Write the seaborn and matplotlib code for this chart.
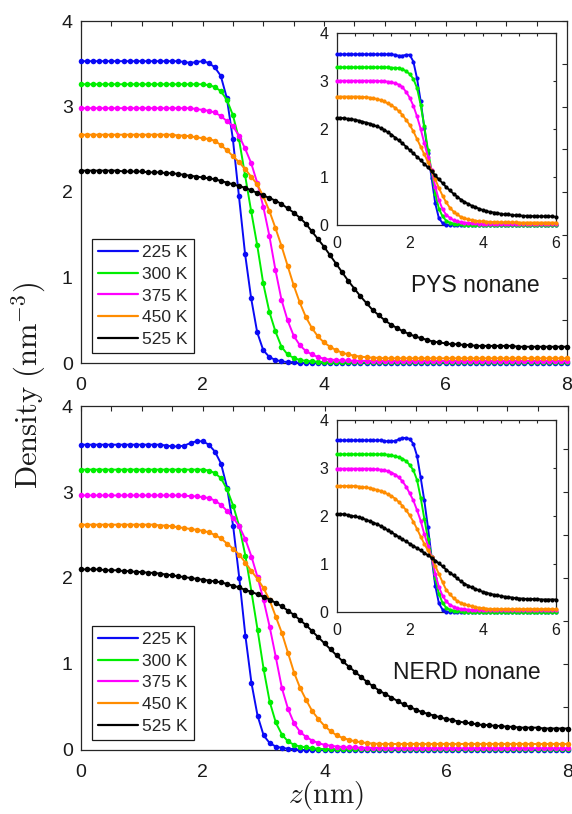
import numpy as np
import pandas as pd
import matplotlib
matplotlib.use("Agg")
import matplotlib.pyplot as plt
import seaborn as sns
from matplotlib.lines import Line2D
from matplotlib.ticker import MultipleLocator, NullLocator

# ---------------------------------------------------------------------------
# Density profiles across the liquid/vapour interface of nonane
# ---------------------------------------------------------------------------
temps = ["225 K", "300 K", "375 K", "450 K", "525 K"]
colors = ["#0a0af5", "#00ee00", "#ff00ff", "#ff8c00", "#000000"]

# sampling grids (nm)
z_main = np.round(np.arange(81) * 0.1, 1)    # 0 .. 8 nm
z_inset = np.round(np.arange(61) * 0.1, 1)   # 0 .. 6 nm

# ---- PYS nonane, main panel ----------------------------------------------
pys_225 = [
    3.53, 3.53, 3.53, 3.53, 3.53, 3.53, 3.53, 3.53, 3.53, 3.53,
    3.53, 3.53, 3.53, 3.53, 3.53, 3.53, 3.53, 3.52, 3.51, 3.52,
    3.53, 3.51, 3.46, 3.36, 3.10, 2.62, 1.95, 1.28, 0.76, 0.36,
    0.15, 0.07, 0.035, 0.02, 0.01, 0.01, 0.0, 0.0, 0.0, 0.0,
    0.0, 0.0, 0.0, 0.0, 0.0, 0.0, 0.0, 0.0, 0.0, 0.0,
    0.0, 0.0, 0.0, 0.0, 0.0, 0.0, 0.0, 0.0, 0.0, 0.0,
    0.0, 0.0, 0.0, 0.0, 0.0, 0.0, 0.0, 0.0, 0.0, 0.0,
    0.0, 0.0, 0.0, 0.0, 0.0, 0.0, 0.0, 0.0, 0.0, 0.0,
    0.0]
pys_300 = [
    3.26, 3.26, 3.26, 3.26, 3.26, 3.26, 3.26, 3.26, 3.26, 3.26,
    3.26, 3.26, 3.26, 3.26, 3.26, 3.26, 3.26, 3.26, 3.26, 3.26,
    3.26, 3.25, 3.23, 3.18, 3.08, 2.90, 2.62, 2.20, 1.78, 1.38,
    0.93, 0.60, 0.37, 0.19, 0.10, 0.06, 0.035, 0.025, 0.02, 0.015,
    0.01, 0.01, 0.01, 0.01, 0.01, 0.01, 0.01, 0.01, 0.01, 0.01,
    0.01, 0.01, 0.01, 0.01, 0.01, 0.01, 0.01, 0.01, 0.01, 0.01,
    0.01, 0.01, 0.01, 0.01, 0.01, 0.01, 0.01, 0.01, 0.01, 0.01,
    0.01, 0.01, 0.01, 0.01, 0.01, 0.01, 0.01, 0.01, 0.01, 0.01,
    0.01]
pys_375 = [
    2.98, 2.98, 2.98, 2.98, 2.98, 2.98, 2.98, 2.98, 2.98, 2.98,
    2.98, 2.98, 2.98, 2.98, 2.98, 2.98, 2.98, 2.98, 2.98, 2.97,
    2.96, 2.95, 2.93, 2.89, 2.83, 2.77, 2.66, 2.51, 2.34, 2.11,
    1.83, 1.49, 1.09, 0.74, 0.50, 0.32, 0.21, 0.14, 0.10, 0.07,
    0.05, 0.04, 0.035, 0.03, 0.03, 0.025, 0.025, 0.025, 0.025, 0.025,
    0.025, 0.025, 0.025, 0.025, 0.025, 0.025, 0.025, 0.025, 0.025, 0.025,
    0.025, 0.025, 0.025, 0.025, 0.025, 0.025, 0.025, 0.025, 0.025, 0.025,
    0.025, 0.025, 0.025, 0.025, 0.025, 0.025, 0.025, 0.025, 0.025, 0.025,
    0.025]
pys_450 = [
    2.67, 2.67, 2.67, 2.67, 2.67, 2.67, 2.67, 2.67, 2.67, 2.67,
    2.67, 2.67, 2.67, 2.67, 2.67, 2.67, 2.66, 2.66, 2.65, 2.64,
    2.63, 2.62, 2.60, 2.55, 2.49, 2.42, 2.35, 2.27, 2.18, 2.09,
    1.95, 1.78, 1.58, 1.37, 1.14, 0.91, 0.71, 0.54, 0.41, 0.31,
    0.24, 0.19, 0.15, 0.12, 0.10, 0.085, 0.075, 0.067, 0.062, 0.06,
    0.055, 0.055, 0.055, 0.055, 0.055, 0.055, 0.055, 0.055, 0.055, 0.055,
    0.055, 0.055, 0.055, 0.055, 0.055, 0.055, 0.055, 0.055, 0.055, 0.055,
    0.055, 0.055, 0.055, 0.055, 0.055, 0.055, 0.055, 0.055, 0.055, 0.055,
    0.055]
pys_525 = [
    2.25, 2.25, 2.25, 2.25, 2.25, 2.25, 2.25, 2.24, 2.24, 2.24,
    2.24, 2.23, 2.23, 2.23, 2.22, 2.22, 2.21, 2.20, 2.19, 2.18,
    2.17, 2.16, 2.15, 2.13, 2.11, 2.09, 2.07, 2.05, 2.02, 1.99,
    1.96, 1.93, 1.90, 1.86, 1.81, 1.76, 1.70, 1.63, 1.54, 1.45,
    1.36, 1.26, 1.16, 1.06, 0.96, 0.87, 0.78, 0.70, 0.62, 0.56,
    0.50, 0.45, 0.41, 0.37, 0.34, 0.31, 0.29, 0.27, 0.25, 0.24,
    0.23, 0.22, 0.22, 0.21, 0.21, 0.20, 0.20, 0.20, 0.20, 0.20,
    0.20, 0.20, 0.19, 0.19, 0.19, 0.19, 0.19, 0.19, 0.19, 0.19,
    0.19]

# ---- PYS nonane, inset -----------------------------------------------------
pys_in_225 = [
    3.55, 3.55, 3.55, 3.55, 3.55, 3.55, 3.55, 3.55, 3.55, 3.55,
    3.55, 3.55, 3.55, 3.55, 3.55, 3.55, 3.54, 3.52, 3.52, 3.54,
    3.54, 3.40, 3.05, 2.58, 2.02, 1.50, 0.98, 0.45, 0.14, 0.04,
    0.01, 0.0, 0.0, 0.0, 0.0, 0.0, 0.0, 0.0, 0.0, 0.0,
    0.0, 0.0, 0.0, 0.0, 0.0, 0.0, 0.0, 0.0, 0.0, 0.0,
    0.0, 0.0, 0.0, 0.0, 0.0, 0.0, 0.0, 0.0, 0.0, 0.0,
    0.0]
pys_in_300 = [
    3.28, 3.28, 3.28, 3.28, 3.28, 3.28, 3.28, 3.28, 3.28, 3.28,
    3.28, 3.28, 3.28, 3.28, 3.28, 3.27, 3.27, 3.26, 3.24, 3.20,
    3.14, 3.04, 2.85, 2.50, 2.05, 1.56, 1.12, 0.65, 0.34, 0.18,
    0.09, 0.05, 0.03, 0.02, 0.015, 0.01, 0.01, 0.01, 0.01, 0.01,
    0.01, 0.01, 0.01, 0.01, 0.01, 0.01, 0.01, 0.01, 0.01, 0.01,
    0.01, 0.01, 0.01, 0.01, 0.01, 0.01, 0.01, 0.01, 0.01, 0.01,
    0.01]
pys_in_375 = [
    3.00, 3.00, 3.00, 3.00, 3.00, 3.00, 3.00, 3.00, 3.00, 3.00,
    3.00, 3.00, 2.99, 2.99, 2.98, 2.97, 2.95, 2.92, 2.87, 2.77,
    2.65, 2.48, 2.26, 2.00, 1.70, 1.42, 1.14, 0.80, 0.52, 0.33,
    0.21, 0.15, 0.10, 0.075, 0.06, 0.05, 0.045, 0.04, 0.035, 0.03,
    0.03, 0.03, 0.03, 0.03, 0.03, 0.03, 0.03, 0.03, 0.03, 0.03,
    0.03, 0.03, 0.03, 0.03, 0.03, 0.03, 0.03, 0.03, 0.03, 0.03,
    0.03]
pys_in_450 = [
    2.67, 2.67, 2.67, 2.67, 2.67, 2.67, 2.67, 2.66, 2.66, 2.65,
    2.64, 2.62, 2.60, 2.57, 2.53, 2.49, 2.44, 2.37, 2.29, 2.19,
    2.08, 1.95, 1.79, 1.63, 1.47, 1.31, 1.13, 0.95, 0.77, 0.61,
    0.47, 0.36, 0.28, 0.22, 0.17, 0.14, 0.12, 0.10, 0.09, 0.08,
    0.075, 0.07, 0.065, 0.06, 0.06, 0.055, 0.055, 0.055, 0.055, 0.055,
    0.05, 0.05, 0.05, 0.05, 0.05, 0.05, 0.05, 0.05, 0.05, 0.05,
    0.05]
pys_in_525 = [
    2.23, 2.23, 2.22, 2.21, 2.20, 2.19, 2.17, 2.15, 2.13, 2.11,
    2.08, 2.05, 2.02, 1.98, 1.93, 1.88, 1.82, 1.76, 1.70, 1.63,
    1.56, 1.49, 1.42, 1.35, 1.27, 1.20, 1.12, 1.03, 0.95, 0.87,
    0.79, 0.72, 0.65, 0.59, 0.53, 0.48, 0.44, 0.40, 0.37, 0.34,
    0.31, 0.29, 0.27, 0.26, 0.25, 0.23, 0.22, 0.22, 0.21, 0.20,
    0.20, 0.19, 0.19, 0.19, 0.18, 0.18, 0.18, 0.18, 0.18, 0.18,
    0.17]

# ---- NERD nonane, main panel ---------------------------------------------
nerd_225 = [
    3.55, 3.55, 3.55, 3.55, 3.55, 3.55, 3.55, 3.55, 3.55, 3.55,
    3.55, 3.55, 3.55, 3.55, 3.54, 3.53, 3.53, 3.54, 3.57, 3.59,
    3.59, 3.55, 3.47, 3.33, 3.05, 2.60, 2.00, 1.33, 0.78, 0.40,
    0.17, 0.08, 0.04, 0.025, 0.015, 0.01, 0.0, 0.0, 0.0, 0.0,
    0.0, 0.0, 0.0, 0.0, 0.0, 0.0, 0.0, 0.0, 0.0, 0.0,
    0.0, 0.0, 0.0, 0.0, 0.0, 0.0, 0.0, 0.0, 0.0, 0.0,
    0.0, 0.0, 0.0, 0.0, 0.0, 0.0, 0.0, 0.0, 0.0, 0.0,
    0.0, 0.0, 0.0, 0.0, 0.0, 0.0, 0.0, 0.0, 0.0, 0.0,
    0.0]
nerd_300 = [
    3.26, 3.26, 3.26, 3.26, 3.26, 3.26, 3.26, 3.26, 3.26, 3.26,
    3.26, 3.26, 3.26, 3.26, 3.26, 3.26, 3.26, 3.26, 3.26, 3.26,
    3.26, 3.25, 3.22, 3.16, 3.03, 2.84, 2.60, 2.26, 1.84, 1.40,
    0.94, 0.56, 0.32, 0.18, 0.10, 0.06, 0.04, 0.03, 0.02, 0.015,
    0.01, 0.01, 0.01, 0.01, 0.01, 0.01, 0.01, 0.01, 0.01, 0.01,
    0.01, 0.01, 0.01, 0.01, 0.01, 0.01, 0.01, 0.01, 0.01, 0.01,
    0.01, 0.01, 0.01, 0.01, 0.01, 0.01, 0.01, 0.01, 0.01, 0.01,
    0.01, 0.01, 0.01, 0.01, 0.01, 0.01, 0.01, 0.01, 0.01, 0.01,
    0.01]
nerd_375 = [
    2.96, 2.96, 2.96, 2.96, 2.96, 2.96, 2.96, 2.96, 2.96, 2.96,
    2.96, 2.96, 2.96, 2.96, 2.96, 2.96, 2.96, 2.96, 2.95, 2.95,
    2.94, 2.93, 2.90, 2.85, 2.78, 2.70, 2.60, 2.45, 2.25, 2.01,
    1.74, 1.43, 1.08, 0.72, 0.48, 0.31, 0.21, 0.15, 0.11, 0.08,
    0.06, 0.05, 0.04, 0.035, 0.03, 0.03, 0.025, 0.025, 0.025, 0.025,
    0.02, 0.02, 0.02, 0.02, 0.02, 0.02, 0.02, 0.02, 0.02, 0.02,
    0.02, 0.02, 0.02, 0.02, 0.02, 0.02, 0.02, 0.02, 0.02, 0.02,
    0.02, 0.02, 0.02, 0.02, 0.02, 0.02, 0.02, 0.02, 0.02, 0.02,
    0.02]
nerd_450 = [
    2.62, 2.62, 2.62, 2.62, 2.62, 2.62, 2.62, 2.62, 2.62, 2.62,
    2.62, 2.62, 2.62, 2.61, 2.61, 2.60, 2.59, 2.58, 2.57, 2.56,
    2.55, 2.53, 2.50, 2.46, 2.40, 2.34, 2.27, 2.18, 2.08, 1.99,
    1.88, 1.74, 1.55, 1.36, 1.13, 0.90, 0.72, 0.58, 0.45, 0.36,
    0.28, 0.22, 0.17, 0.14, 0.12, 0.10, 0.09, 0.08, 0.075, 0.07,
    0.07, 0.07, 0.07, 0.07, 0.07, 0.07, 0.07, 0.07, 0.07, 0.07,
    0.07, 0.07, 0.07, 0.07, 0.07, 0.07, 0.07, 0.07, 0.07, 0.07,
    0.07, 0.07, 0.07, 0.07, 0.07, 0.07, 0.07, 0.07, 0.07, 0.07,
    0.07]
nerd_525 = [
    2.10, 2.10, 2.10, 2.10, 2.09, 2.09, 2.09, 2.08, 2.08, 2.07,
    2.07, 2.06, 2.06, 2.05, 2.04, 2.03, 2.02, 2.01, 2.00, 1.99,
    1.98, 1.97, 1.96, 1.95, 1.93, 1.91, 1.89, 1.86, 1.84, 1.81,
    1.78, 1.75, 1.71, 1.67, 1.62, 1.57, 1.51, 1.45, 1.38, 1.31,
    1.24, 1.17, 1.10, 1.03, 0.97, 0.91, 0.85, 0.79, 0.74, 0.69,
    0.65, 0.61, 0.57, 0.53, 0.50, 0.47, 0.44, 0.42, 0.40, 0.38,
    0.36, 0.35, 0.33, 0.32, 0.31, 0.30, 0.29, 0.29, 0.28, 0.28,
    0.27, 0.27, 0.26, 0.26, 0.26, 0.26, 0.25, 0.25, 0.25, 0.25,
    0.25]

# ---- NERD nonane, inset ----------------------------------------------------
nerd_in_225 = [
    3.57, 3.57, 3.57, 3.57, 3.57, 3.57, 3.57, 3.57, 3.57, 3.57,
    3.57, 3.57, 3.57, 3.56, 3.55, 3.55, 3.56, 3.59, 3.62, 3.62,
    3.60, 3.50, 3.25, 2.80, 2.32, 1.76, 1.14, 0.55, 0.18, 0.05,
    0.01, 0.0, 0.0, 0.0, 0.0, 0.0, 0.0, 0.0, 0.0, 0.0,
    0.0, 0.0, 0.0, 0.0, 0.0, 0.0, 0.0, 0.0, 0.0, 0.0,
    0.0, 0.0, 0.0, 0.0, 0.0, 0.0, 0.0, 0.0, 0.0, 0.0,
    0.0]
nerd_in_300 = [
    3.28, 3.28, 3.28, 3.28, 3.28, 3.28, 3.28, 3.28, 3.28, 3.28,
    3.28, 3.28, 3.28, 3.28, 3.27, 3.26, 3.24, 3.22, 3.19, 3.14,
    3.06, 2.95, 2.75, 2.38, 1.94, 1.52, 1.14, 0.70, 0.38, 0.19,
    0.09, 0.05, 0.03, 0.02, 0.015, 0.01, 0.01, 0.01, 0.01, 0.01,
    0.01, 0.01, 0.01, 0.01, 0.01, 0.01, 0.01, 0.01, 0.01, 0.01,
    0.01, 0.01, 0.01, 0.01, 0.01, 0.01, 0.01, 0.01, 0.01, 0.01,
    0.01]
nerd_in_375 = [
    2.98, 2.98, 2.98, 2.98, 2.98, 2.98, 2.98, 2.98, 2.98, 2.98,
    2.97, 2.97, 2.96, 2.95, 2.93, 2.90, 2.86, 2.80, 2.72, 2.61,
    2.47, 2.32, 2.12, 1.90, 1.62, 1.38, 1.14, 0.80, 0.52, 0.34,
    0.22, 0.15, 0.11, 0.08, 0.065, 0.055, 0.05, 0.045, 0.04, 0.04,
    0.035, 0.035, 0.035, 0.035, 0.035, 0.035, 0.035, 0.035, 0.035, 0.035,
    0.035, 0.035, 0.035, 0.035, 0.035, 0.035, 0.035, 0.035, 0.035, 0.035,
    0.035]
nerd_in_450 = [
    2.62, 2.62, 2.62, 2.62, 2.62, 2.62, 2.61, 2.60, 2.59, 2.58,
    2.56, 2.54, 2.52, 2.49, 2.45, 2.41, 2.36, 2.29, 2.21, 2.12,
    2.01, 1.88, 1.73, 1.57, 1.42, 1.28, 1.14, 0.96, 0.79, 0.62,
    0.46, 0.37, 0.29, 0.23, 0.19, 0.16, 0.14, 0.12, 0.10, 0.09,
    0.08, 0.07, 0.065, 0.06, 0.06, 0.06, 0.06, 0.06, 0.06, 0.06,
    0.06, 0.06, 0.06, 0.06, 0.06, 0.06, 0.06, 0.06, 0.06, 0.06,
    0.06]
nerd_in_525 = [
    2.04, 2.04, 2.03, 2.02, 2.00, 1.99, 1.97, 1.95, 1.92, 1.89,
    1.86, 1.83, 1.79, 1.75, 1.70, 1.66, 1.61, 1.56, 1.51, 1.47,
    1.42, 1.37, 1.33, 1.28, 1.23, 1.18, 1.13, 1.07, 1.01, 0.95,
    0.88, 0.82, 0.76, 0.70, 0.64, 0.59, 0.55, 0.51, 0.48, 0.45,
    0.42, 0.40, 0.38, 0.36, 0.35, 0.33, 0.32, 0.31, 0.30, 0.29,
    0.28, 0.28, 0.27, 0.27, 0.27, 0.27, 0.26, 0.26, 0.26, 0.26,
    0.26]

model_names = ["PYS nonane", "NERD nonane"]

# ---------------------------------------------------------------------------
sns.set_theme(style="white")
plt.rcParams["font.family"] = ["Liberation Sans", "DejaVu Sans"]
plt.rcParams["mathtext.fontset"] = "cm"

AX_COLOR = "#262626"


def draw_profiles(ax, z, series, lw, ms):
    frame = pd.DataFrame({"z": z})
    for name, values in zip(temps, series):
        frame[name] = values
    long = frame.melt(id_vars="z", var_name="T", value_name="density")
    sns.lineplot(data=long, x="z", y="density", hue="T", hue_order=temps,
                 palette=colors, marker="o", markersize=ms,
                 markeredgewidth=0, linewidth=lw, estimator=None,
                 sort=False, legend=False, ax=ax)
    for line in ax.lines:
        line.set_clip_on(False)
        line.set_zorder(3)


def style_axes(ax, xmax, labelsize, ticklen, ypad, xpad, yminor):
    ax.set_xlim(0, xmax)
    ax.set_ylim(0, 4)
    ax.xaxis.set_major_locator(MultipleLocator(2))
    ax.xaxis.set_minor_locator(MultipleLocator(0.5))
    ax.yaxis.set_major_locator(MultipleLocator(1))
    if yminor:
        ax.yaxis.set_minor_locator(MultipleLocator(0.5))
    else:
        ax.yaxis.set_minor_locator(NullLocator())
    ax.tick_params(which="both", direction="in", top=True, right=True,
                   length=ticklen, width=0.8, color=AX_COLOR,
                   labelcolor="#1a1a1a", labelsize=labelsize)
    ax.tick_params(axis="y", pad=ypad)
    ax.tick_params(axis="x", pad=xpad)
    for spine in ax.spines.values():
        spine.set_linewidth(0.9)
        spine.set_color(AX_COLOR)
    ax.set_xlabel("")
    ax.set_ylabel("")
    ax.set_facecolor("white")


W, H = 572, 814
fig = plt.figure(figsize=(W / 100, H / 100), dpi=100)


def px_axes(x0, y0, x1, y1):
    return fig.add_axes([x0 / W, 1 - y1 / H, (x1 - x0) / W, (y1 - y0) / H])


panels = [
    dict(main=(81, 21, 567, 363), inset=(336.7, 32.7, 555.7, 225),
         series=[pys_225, pys_300, pys_375, pys_450, pys_525],
         inset_series=[pys_in_225, pys_in_300, pys_in_375, pys_in_450, pys_in_525],
         tag=model_names[0], tag_xy=(0.811, 0.228)),
    dict(main=(81, 406, 568, 750), inset=(336.7, 419.7, 555.7, 612),
         series=[nerd_225, nerd_300, nerd_375, nerd_450, nerd_525],
         inset_series=[nerd_in_225, nerd_in_300, nerd_in_375, nerd_in_450, nerd_in_525],
         tag=model_names[1], tag_xy=(0.792, 0.224)),
]

for p in panels:
    ax = px_axes(*p["main"])
    draw_profiles(ax, z_main, p["series"], lw=1.4, ms=4.0)
    style_axes(ax, 8, labelsize=14, ticklen=3.3, ypad=6, xpad=10, yminor=True)

    handles = [Line2D([], [], color=c, lw=1.6) for c in colors]
    leg = ax.legend(handles, temps, loc="lower left",
                    bbox_to_anchor=(0.0226, 0.029), borderaxespad=0,
                    fontsize=12.5, handlelength=2.3, handletextpad=0.25,
                    borderpad=0.35, labelspacing=0.38, frameon=True,
                    fancybox=False, framealpha=1)
    leg.get_frame().set_edgecolor("#1a1a1a")
    leg.get_frame().set_linewidth(0.9)

    ax.text(*p["tag_xy"], p["tag"], transform=ax.transAxes, ha="center",
            va="center", fontsize=16.5, color="#1a1a1a")

    axi = px_axes(*p["inset"])
    draw_profiles(axi, z_inset, p["inset_series"], lw=1.4, ms=3.0)
    style_axes(axi, 6, labelsize=11.5, ticklen=2.5, ypad=6, xpad=8, yminor=False)

fig.text(29 / W, 1 - 385 / H, r"$\mathrm{Density}\ (\mathrm{nm}^{-3})$",
         rotation=90, ha="center", va="center", fontsize=22, color="#1a1a1a")
fig.text(326 / W, 1 - 796 / H, r"$z(\mathrm{nm})$", ha="center",
         va="center", fontsize=21, color="#1a1a1a")

fig.savefig("out.png", dpi=100, facecolor="white")
